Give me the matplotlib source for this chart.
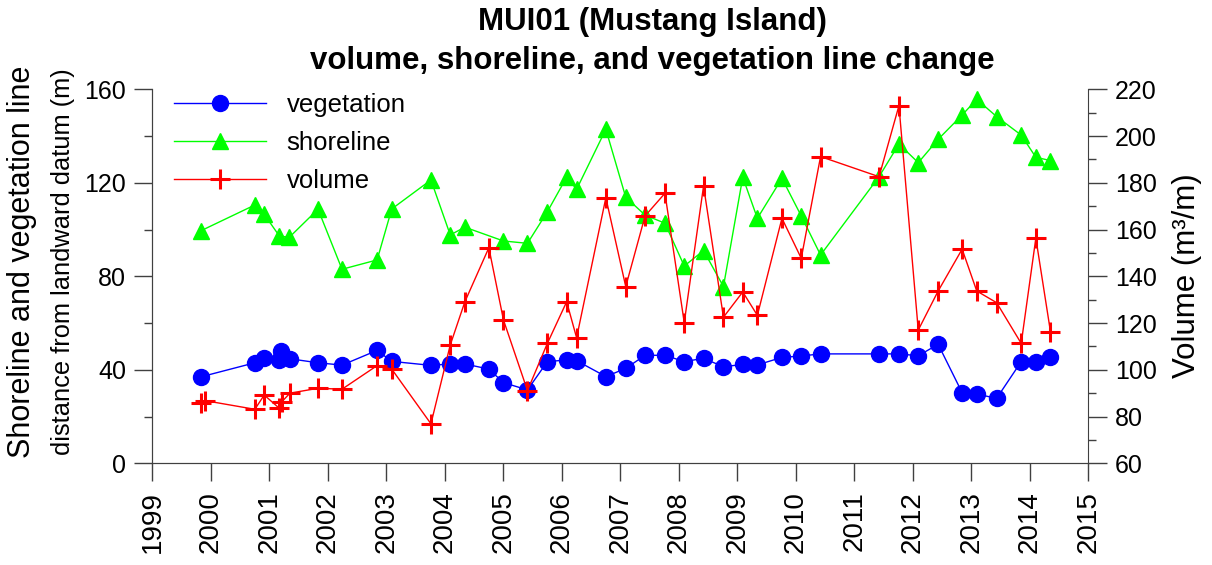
import matplotlib
matplotlib.use("Agg")
import matplotlib.pyplot as plt
from matplotlib.ticker import MultipleLocator

plt.rcParams['font.family'] = ['Liberation Sans', 'DejaVu Sans']

# fechas en años decimales
veg_t = [1999.83, 2000.75, 2000.91, 2001.17, 2001.19, 2001.35, 2001.83, 2002.24, 2002.84,
         2003.09, 2003.76, 2004.09, 2004.34, 2004.75, 2005.00, 2005.41, 2005.75, 2006.08,
         2006.25, 2006.75, 2007.09, 2007.42, 2007.76, 2008.09, 2008.42, 2008.76, 2009.09,
         2009.34, 2009.76, 2010.09, 2010.42, 2011.42, 2011.76, 2012.09, 2012.43, 2012.84,
         2013.09, 2013.43, 2013.85, 2014.10, 2014.35]
veg = [37.0, 43.0, 45.2, 44.3, 48.2, 44.7, 43.0, 42.0, 48.3, 43.6, 41.9, 42.5, 42.5, 40.3,
       34.5, 31.4, 43.5, 44.2, 43.9, 37.1, 40.6, 46.2, 46.2, 43.5, 44.9, 41.3, 42.3, 42.1,
       45.3, 45.9, 46.8, 46.8, 46.8, 46.0, 50.9, 30.2, 29.6, 27.8, 43.5, 43.5, 45.6]

shore_t = [1999.83, 2000.75, 2000.91, 2001.17, 2001.34, 2001.83, 2002.24, 2002.84, 2003.09,
           2003.76, 2004.09, 2004.34, 2005.00, 2005.41, 2005.75, 2006.08, 2006.25, 2006.75,
           2007.09, 2007.42, 2007.76, 2008.09, 2008.42, 2008.76, 2009.09, 2009.34, 2009.76,
           2010.09, 2010.42, 2011.42, 2011.76, 2012.09, 2012.43, 2012.84, 2013.09, 2013.43,
           2013.85, 2014.10, 2014.35]
shore = [99.5, 110.5, 106.5, 97.2, 96.7, 108.7, 83.0, 87.0, 108.8, 121.2, 97.7, 101.0, 95.1,
         94.1, 107.6, 122.4, 117.2, 142.9, 113.8, 106.2, 102.7, 84.4, 91.0, 75.6, 122.4, 104.8,
         121.9, 105.8, 89.1, 122.6, 136.6, 128.6, 138.6, 149.0, 155.7, 148.3, 140.4, 130.9, 129.5]

vol_t = [1999.83, 1999.90, 2000.75, 2000.91, 2001.17, 2001.21, 2001.35, 2001.83, 2002.24,
         2002.84, 2003.09, 2003.76, 2004.09, 2004.34, 2004.75, 2005.00, 2005.41, 2005.75,
         2006.08, 2006.25, 2006.75, 2007.09, 2007.42, 2007.76, 2008.09, 2008.42, 2008.76,
         2009.09, 2009.34, 2009.76, 2010.09, 2010.42, 2011.42, 2011.76, 2012.09, 2012.43,
         2012.84, 2013.09, 2013.43, 2013.85, 2014.10, 2014.35]
vol = [85.7, 86.8, 83.1, 89.2, 83.5, 86.3, 90.0, 92.1, 91.7, 101.8, 100.3, 76.9, 110.6, 129.1,
       152.2, 121.3, 91.1, 111.3, 129.1, 113.7, 173.6, 135.6, 165.8, 175.5, 120.2, 178.6, 122.5,
       133.3, 123.3, 164.8, 147.7, 191.2, 182.6, 213.0, 117.0, 133.7, 151.6, 133.7, 128.7, 111.3,
       156.3, 116.3]

years = list(range(1999, 2016))

gris = '#404040'

fig = plt.figure(figsize=(12.12, 5.65), dpi=100)
ax = fig.add_axes([0.1258, 0.180, 0.7723, 0.662])
ax2 = ax.twinx()

l1, = ax.plot(veg_t, veg, color='blue', lw=1, marker='o', ms=11.5, mec='blue', mfc='blue')
l2, = ax.plot(shore_t, shore, color='#00ff00', lw=1, marker='^', ms=12, mec='#00ff00', mfc='#00ff00')
l3, = ax2.plot(vol_t, vol, color='red', lw=1, marker='+', ms=15, mew=2.2)

ax.set_xlim(1999, 2015)
ax.set_ylim(0, 160)
ax2.set_ylim(60, 220)

ax.set_xticks(years)
ax.set_xticklabels([str(y) for y in years], rotation=90, fontsize=20)
ax.yaxis.set_major_locator(MultipleLocator(40))
ax.yaxis.set_minor_locator(MultipleLocator(20))
ax2.yaxis.set_major_locator(MultipleLocator(20))
ax2.yaxis.set_minor_locator(MultipleLocator(10))

ax.tick_params(axis='x', length=13, width=1, color=gris, pad=7)
ax.tick_params(axis='y', which='major', length=13, width=1, color=gris, labelsize=18, pad=6)
ax.tick_params(axis='y', which='minor', length=6, width=1, color=gris)
ax2.tick_params(axis='y', which='major', length=14, width=1, color=gris, labelsize=18, pad=5)
ax2.tick_params(axis='y', which='minor', length=6, width=1, color=gris)

for a in (ax, ax2):
    a.spines['top'].set_visible(False)
    for s in a.spines.values():
        s.set_color(gris)
ax.spines['right'].set_visible(False)

# titulos y etiquetas
fig.text(0.538, 1 - 22 / 565, 'MUI01 (Mustang Island)', ha='center', va='center',
         fontsize=22.5, fontweight='bold')
fig.text(0.538, 1 - 61 / 565, 'volume, shoreline, and vegetation line change', ha='center',
         va='center', fontsize=22.5, fontweight='bold')
fig.text(22 / 1212, 1 - 262 / 565, 'Shoreline and vegetation line', rotation=90,
         ha='center', va='center', fontsize=22)
fig.text(63 / 1212, 1 - 262 / 565, 'distance from landward datum (m)', rotation=90,
         ha='center', va='center', fontsize=18.3)
fig.text(1187 / 1212, 1 - 276 / 565, 'Volume (m³/m)', rotation=90,
         ha='center', va='center', fontsize=22.5)

leg = ax.legend([l1, l2, l3], ['vegetation', 'shoreline', 'volume'], loc='upper left',
                bbox_to_anchor=(-0.002, 1.053), frameon=False, fontsize=18.5,
                handlelength=3.6, labelspacing=0.55, handletextpad=0.8)

fig.savefig('out.png', dpi=100)
